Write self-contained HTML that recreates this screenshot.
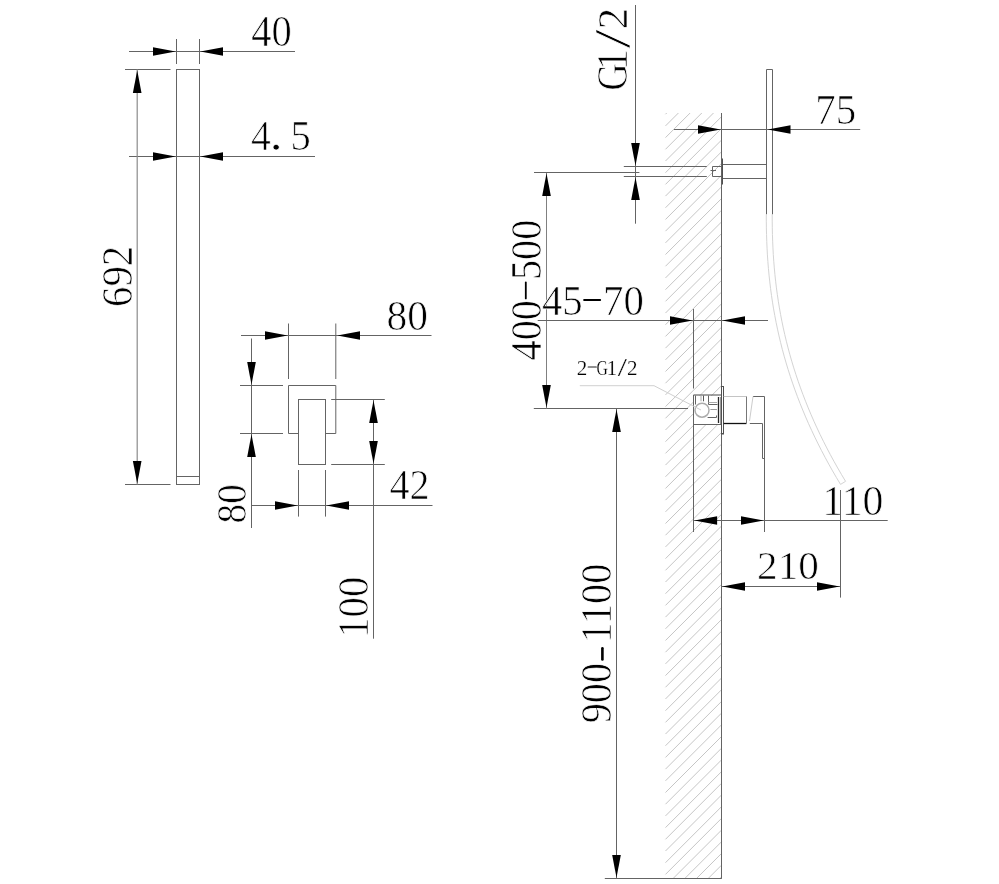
<!DOCTYPE html>
<html><head><meta charset="utf-8"><title>Shower installation drawing</title>
<style>html,body{margin:0;padding:0;background:#fff;}svg{display:block;filter:grayscale(1);}text{font-family:"Liberation Serif",serif;font-size:100px;fill:#000;stroke:#fff;}</style>
</head><body>
<svg width="999" height="884" viewBox="0 0 999 884">
<rect width="999" height="884" fill="#fff"/>
<rect x="176.5" y="69.5" width="23.00" height="415.00" stroke="#646464" stroke-width="1" fill="none"/>
<line x1="176.5" y1="476.5" x2="199.5" y2="476.5" stroke="#646464" stroke-width="1"/>
<line x1="129" y1="51.5" x2="295" y2="51.5" stroke="#646464" stroke-width="1"/>
<line x1="176.5" y1="39" x2="176.5" y2="64" stroke="#646464" stroke-width="1"/>
<line x1="199.5" y1="39" x2="199.5" y2="64" stroke="#646464" stroke-width="1"/>
<polygon points="175.70,51.50 153.00,47.20 153.00,55.80" fill="#000"/>
<polygon points="200.30,51.50 223.00,47.20 223.00,55.80" fill="#000"/>
<text transform="translate(251.22,45.82) scale(0.4055,0.4335)" stroke-width="1.67">40</text>
<line x1="129" y1="156.5" x2="315" y2="156.5" stroke="#646464" stroke-width="1"/>
<polygon points="175.70,156.50 153.00,152.20 153.00,160.80" fill="#000"/>
<polygon points="200.30,156.50 223.00,152.20 223.00,160.80" fill="#000"/>
<text transform="translate(250.88,150.17) scale(0.3964,0.4267)" stroke-width="1.70">4</text>
<text transform="translate(269.58,149.65) scale(0.5300,0.4608)" stroke-width="1.41">.</text>
<text transform="translate(290.45,149.88) scale(0.4062,0.4320)" stroke-width="1.67">5</text>
<line x1="125" y1="69.5" x2="170.5" y2="69.5" stroke="#646464" stroke-width="1"/>
<line x1="125" y1="484.5" x2="170.5" y2="484.5" stroke="#646464" stroke-width="1"/>
<line x1="137.2" y1="69.5" x2="137.2" y2="484.5" stroke="#8c8c8c" stroke-width="1.2"/>
<polygon points="137.20,70.30 132.90,93.00 141.50,93.00" fill="#000"/>
<polygon points="137.20,483.70 132.90,461.00 141.50,461.00" fill="#000"/>
<text transform="translate(131.74,306.98) rotate(-90) scale(0.4081,0.4389)" stroke-width="1.65">692</text>
<path d="M298.5,433.5 H288.5 V385.5 H335.8 V433.5 H325.5" stroke="#646464" stroke-width="1" fill="none"/>
<rect x="298.5" y="399.5" width="27.00" height="65.00" stroke="#646464" stroke-width="1" fill="none"/>
<line x1="241" y1="335.5" x2="431.5" y2="335.5" stroke="#646464" stroke-width="1"/>
<line x1="288.5" y1="323.5" x2="288.5" y2="379" stroke="#646464" stroke-width="1"/>
<line x1="335.8" y1="323.5" x2="335.8" y2="379" stroke="#646464" stroke-width="1"/>
<polygon points="287.70,335.50 265.00,331.20 265.00,339.80" fill="#000"/>
<polygon points="337.30,335.50 360.00,331.20 360.00,339.80" fill="#000"/>
<text transform="translate(386.52,329.59) scale(0.4144,0.4264)" stroke-width="1.67">80</text>
<line x1="251.5" y1="338.5" x2="251.5" y2="528" stroke="#646464" stroke-width="1"/>
<line x1="240" y1="385.5" x2="283" y2="385.5" stroke="#646464" stroke-width="1"/>
<line x1="240" y1="433.5" x2="283" y2="433.5" stroke="#646464" stroke-width="1"/>
<polygon points="251.50,384.70 247.20,362.00 255.80,362.00" fill="#000"/>
<polygon points="251.50,434.30 247.20,457.00 255.80,457.00" fill="#000"/>
<text transform="translate(245.57,523.45) rotate(-90) scale(0.3927,0.4217)" stroke-width="1.72">80</text>
<line x1="251.5" y1="505.5" x2="432.5" y2="505.5" stroke="#646464" stroke-width="1"/>
<line x1="298.5" y1="470" x2="298.5" y2="516.6" stroke="#646464" stroke-width="1"/>
<line x1="325.5" y1="470" x2="325.5" y2="516.6" stroke="#646464" stroke-width="1"/>
<polygon points="297.70,505.50 275.00,501.20 275.00,509.80" fill="#000"/>
<polygon points="326.30,505.50 349.00,501.20 349.00,509.80" fill="#000"/>
<text transform="translate(389.47,499.26) scale(0.4009,0.4237)" stroke-width="1.70">42</text>
<line x1="373.5" y1="399.5" x2="373.5" y2="638.7" stroke="#646464" stroke-width="1"/>
<line x1="331.2" y1="399.5" x2="384.8" y2="399.5" stroke="#646464" stroke-width="1"/>
<line x1="331.2" y1="464.5" x2="384.8" y2="464.5" stroke="#646464" stroke-width="1"/>
<polygon points="373.50,400.30 369.20,423.00 377.80,423.00" fill="#000"/>
<polygon points="373.50,463.70 369.20,441.00 377.80,441.00" fill="#000"/>
<text transform="translate(368.25,637.72) rotate(-90) scale(0.4064,0.4472)" stroke-width="1.64">100</text>
<path d="M665.50,114.21 L666.71,113.00 M665.50,125.90 L678.40,113.00 M665.50,137.60 L690.10,113.00 M665.50,149.29 L701.79,113.00 M665.50,160.99 L713.49,113.00 M665.50,172.68 L721.50,116.68 M665.50,184.38 L721.50,128.38 M665.50,196.07 L721.50,140.07 M665.50,207.76 L721.50,151.76 M665.50,219.46 L721.50,163.46 M665.50,231.15 L721.50,175.15 M665.50,242.85 L721.50,186.85 M665.50,254.55 L721.50,198.55 M665.50,266.24 L721.50,210.24 M665.50,277.94 L721.50,221.94 M665.50,289.63 L721.50,233.63 M665.50,301.33 L721.50,245.33 M665.50,313.02 L721.50,257.02 M665.50,324.72 L721.50,268.72 M665.50,336.41 L721.50,280.41 M665.50,348.11 L721.50,292.11 M665.50,359.80 L721.50,303.80 M665.50,371.49 L721.50,315.49 M665.50,383.19 L721.50,327.19 M665.50,394.88 L721.50,338.88 M665.50,406.58 L721.50,350.58 M665.50,418.28 L721.50,362.28 M665.50,429.97 L721.50,373.97 M665.50,441.66 L721.50,385.66 M665.50,453.36 L721.50,397.36 M665.50,465.06 L721.50,409.06 M665.50,476.75 L721.50,420.75 M665.50,488.45 L721.50,432.45 M665.50,500.14 L721.50,444.14 M665.50,511.84 L721.50,455.84 M665.50,523.53 L721.50,467.53 M665.50,535.22 L721.50,479.22 M665.50,546.92 L721.50,490.92 M665.50,558.62 L721.50,502.62 M665.50,570.31 L721.50,514.31 M665.50,582.01 L721.50,526.01 M665.50,593.70 L721.50,537.70 M665.50,605.39 L721.50,549.39 M665.50,617.09 L721.50,561.09 M665.50,628.79 L721.50,572.79 M665.50,640.48 L721.50,584.48 M665.50,652.18 L721.50,596.18 M665.50,663.87 L721.50,607.87 M665.50,675.57 L721.50,619.57 M665.50,687.26 L721.50,631.26 M665.50,698.95 L721.50,642.95 M665.50,710.65 L721.50,654.65 M665.50,722.35 L721.50,666.35 M665.50,734.04 L721.50,678.04 M665.50,745.74 L721.50,689.74 M665.50,757.43 L721.50,701.43 M665.50,769.12 L721.50,713.12 M665.50,780.82 L721.50,724.82 M665.50,792.51 L721.50,736.51 M665.50,804.21 L721.50,748.21 M665.50,815.91 L721.50,759.91 M665.50,827.60 L721.50,771.60 M665.50,839.30 L721.50,783.30 M665.50,850.99 L721.50,794.99 M665.50,862.68 L721.50,806.68 M665.50,874.38 L721.50,818.38 M673.08,878.50 L721.50,830.08 M684.77,878.50 L721.50,841.77 M696.47,878.50 L721.50,853.47 M708.16,878.50 L721.50,865.16 M719.86,878.50 L721.50,876.86" stroke="#c6c6c6" stroke-width="1" fill="none"/>
<line x1="721.5" y1="113" x2="721.5" y2="878.5" stroke="#646464" stroke-width="1"/>
<line x1="604.8" y1="878.5" x2="721.8" y2="878.5" stroke="#646464" stroke-width="1"/>
<line x1="616.5" y1="408.5" x2="616.5" y2="878.5" stroke="#646464" stroke-width="1"/>
<line x1="533.8" y1="408.5" x2="688" y2="408.5" stroke="#646464" stroke-width="1"/>
<polygon points="616.50,409.30 612.20,432.00 620.80,432.00" fill="#000"/>
<polygon points="616.50,877.70 612.20,855.00 620.80,855.00" fill="#000"/>
<text transform="translate(610.57,723.31) rotate(-90) scale(0.4030,0.4357)" stroke-width="1.67">900 1100</text>
<line x1="602.4" y1="648.2" x2="602.4" y2="659.4" stroke="#000" stroke-width="2.6" style="stroke-linecap:round"/>
<line x1="546.5" y1="172.5" x2="546.5" y2="408.5" stroke="#808080" stroke-width="1"/>
<line x1="534" y1="172.5" x2="639.4" y2="172.5" stroke="#646464" stroke-width="1"/>
<polygon points="546.50,173.30 542.20,196.00 550.80,196.00" fill="#000"/>
<polygon points="546.50,407.70 542.20,385.00 550.80,385.00" fill="#000"/>
<text transform="translate(540.82,360.41) rotate(-90) scale(0.4021,0.4420)" stroke-width="1.66">400 500</text>
<line x1="525.8" y1="282.4" x2="525.8" y2="298.4" stroke="#000" stroke-width="1.8" style="stroke-linecap:round"/>
<line x1="635.5" y1="5" x2="635.5" y2="223.7" stroke="#646464" stroke-width="1"/>
<line x1="623.8" y1="166.5" x2="706.8" y2="166.5" stroke="#646464" stroke-width="1"/>
<line x1="623.8" y1="176.5" x2="706.8" y2="176.5" stroke="#646464" stroke-width="1"/>
<polygon points="635.50,165.70 631.20,143.00 639.80,143.00" fill="#000"/>
<polygon points="635.50,177.30 631.20,200.00 639.80,200.00" fill="#000"/>
<text transform="translate(626.62,29.43) rotate(-90) scale(0.4340,0.4272)" stroke-width="1.63">2</text>
<text transform="translate(629.28,48.59) rotate(-90) scale(0.6863,0.5155)" stroke-width="1.16">/</text>
<text transform="translate(626.67,70.57) rotate(-90) scale(0.4291,0.4345)" stroke-width="1.62">1</text>
<text transform="translate(627.37,90.52) rotate(-90) scale(0.3750,0.4483)" stroke-width="1.70">G</text>
<path d="M721.5,166.5 H712.5 V176.5 H721.5" stroke="#646464" stroke-width="1" fill="none"/>
<line x1="710.5" y1="170.5" x2="716" y2="170.5" stroke="#646464" stroke-width="1"/>
<line x1="722.5" y1="158.5" x2="722.5" y2="184.5" stroke="#505050" stroke-width="1"/>
<line x1="723" y1="164.5" x2="766.5" y2="164.5" stroke="#646464" stroke-width="1"/>
<line x1="723" y1="178.5" x2="766.5" y2="178.5" stroke="#646464" stroke-width="1"/>
<path d="M766.5,214.4 V69.5 H772.5 V214.4" stroke="#646464" stroke-width="1" fill="none"/>
<line x1="674" y1="129.5" x2="860.2" y2="129.5" stroke="#646464" stroke-width="1"/>
<polygon points="720.70,129.50 698.00,125.20 698.00,133.80" fill="#000"/>
<polygon points="767.80,129.50 790.50,125.20 790.50,133.80" fill="#000"/>
<text transform="translate(815.17,123.65) scale(0.4098,0.4161)" stroke-width="1.70">75</text>
<path d="M766.30,214.40 L766.32,221.15 L766.40,227.90 L766.54,234.65 L766.76,241.40 L767.05,248.15 L767.42,254.90 L767.88,261.65 L768.42,268.40 L769.05,275.15 L769.77,281.90 L770.58,288.65 L771.49,295.40 L772.49,302.15 L773.59,308.90 L774.80,315.65 L776.10,322.40 L777.50,329.15 L779.01,335.90 L780.62,342.65 L782.34,349.40 L784.17,356.15 L786.10,362.90 L788.15,369.65 L790.30,376.40 L792.57,383.15 L794.95,389.90 L797.44,396.65 L800.05,403.40 L802.77,410.15 L805.61,416.90 L808.56,423.65 L811.63,430.40 L814.82,437.15 L818.13,443.90 L821.56,450.65 L825.11,457.40 L828.78,464.15 L832.57,470.90 L836.49,477.65 L840.53,484.40 L845.57,481.34 L841.57,474.65 L837.70,467.97 L833.94,461.30 L830.31,454.62 L826.80,447.94 L823.41,441.27 L820.14,434.59 L816.98,427.92 L813.95,421.25 L811.03,414.57 L808.22,407.90 L805.54,401.23 L802.96,394.57 L800.50,387.90 L798.15,381.23 L795.91,374.56 L793.78,367.90 L791.76,361.23 L789.85,354.57 L788.05,347.90 L786.35,341.24 L784.76,334.57 L783.27,327.91 L781.88,321.24 L780.60,314.57 L779.41,307.91 L778.32,301.24 L777.33,294.57 L776.43,287.90 L775.63,281.23 L774.92,274.56 L774.30,267.89 L773.76,261.22 L773.31,254.54 L772.94,247.86 L772.65,241.18 L772.44,234.49 L772.30,227.80 L772.22,221.11 L772.20,214.40" stroke="#d4d4d4" stroke-width="1" fill="none"/>
<line x1="537.7" y1="320.5" x2="768" y2="320.5" stroke="#646464" stroke-width="1"/>
<line x1="693.5" y1="309" x2="693.5" y2="388.5" stroke="#646464" stroke-width="1"/>
<polygon points="692.70,320.50 670.00,316.20 670.00,324.80" fill="#000"/>
<polygon points="722.30,320.50 745.00,316.20 745.00,324.80" fill="#000"/>
<text transform="translate(541.91,314.67) scale(0.4077,0.4271)" stroke-width="1.68">45 70</text>
<line x1="584.1" y1="300.1" x2="600.1" y2="300.1" stroke="#000" stroke-width="2" style="stroke-linecap:round"/>
<rect x="694" y="396" width="27" height="28" fill="#fff"/>
<line x1="693.5" y1="395" x2="721" y2="395" stroke="#666" stroke-width="1.2"/>
<line x1="693.5" y1="395" x2="693.5" y2="532" stroke="#646464" stroke-width="1"/>
<line x1="693.5" y1="424.5" x2="721" y2="424.5" stroke="#646464" stroke-width="1"/>
<line x1="695.5" y1="395.5" x2="695.5" y2="404.5" stroke="#646464" stroke-width="1"/>
<line x1="701" y1="395.5" x2="701" y2="401.3" stroke="#aaa" stroke-width="1"/>
<line x1="703.5" y1="395.5" x2="703.5" y2="401.3" stroke="#555" stroke-width="1"/>
<path d="M708.5,395.5 V404.5 H717.5" stroke="#646464" stroke-width="1" fill="none"/>
<line x1="708.5" y1="402.5" x2="717" y2="402.5" stroke="#aaa" stroke-width="1"/>
<line x1="710.4" y1="409.5" x2="716.5" y2="409.5" stroke="#999" stroke-width="1"/>
<line x1="716.5" y1="409.5" x2="716.6" y2="409.6" stroke="#000" stroke-width="1.5"/>
<path d="M707.6,417.5 H716.5 V415.5" stroke="#646464" stroke-width="1" fill="none"/>
<circle cx="702" cy="410.2" r="7" stroke="#acacac" fill="none" stroke-width="1.5"/>
<line x1="718.5" y1="397" x2="718.5" y2="423" stroke="#282828" stroke-width="1.3"/>
<line x1="720.5" y1="397" x2="720.5" y2="424" stroke="#999" stroke-width="1"/>
<rect x="721.5" y="386.5" width="2" height="47.5" stroke="#505050" fill="none" stroke-width="1"/>
<line x1="723.7" y1="396.5" x2="746.4" y2="396.5" stroke="#c4c4c4" stroke-width="1"/>
<line x1="723.7" y1="423.5" x2="746.4" y2="423.5" stroke="#111" stroke-width="1.3"/>
<line x1="746.5" y1="396.5" x2="746.5" y2="423.5" stroke="#777" stroke-width="1"/>
<path d="M753,396.5 H764.5 V532" stroke="#646464" stroke-width="1" fill="none"/>
<line x1="753" y1="396.5" x2="749.5" y2="421" stroke="#ccc" stroke-width="1"/>
<path d="M749.8,423.5 H762.5 V458.5 H764.5" stroke="#646464" stroke-width="1" fill="none"/>
<path d="M579.8,385.7 H654 L701,410" stroke="#d0d0d0" stroke-width="1" fill="none"/>
<text transform="translate(576.83,374.59) scale(0.2109,0.2026)" stroke-width="0.97">2</text>
<text transform="translate(596.60,375.00) scale(0.1571,0.2154)" stroke-width="1.07">G</text>
<text transform="translate(606.60,374.63) scale(0.2148,0.2031)" stroke-width="0.96">1</text>
<text transform="translate(617.68,375.59) scale(0.3316,0.2501)" stroke-width="0.69">/</text>
<text transform="translate(627.09,374.59) scale(0.2110,0.2026)" stroke-width="0.97">2</text>
<line x1="588.2" y1="367" x2="596.3" y2="367" stroke="#222" stroke-width="1.2" style="stroke-linecap:round"/>
<line x1="693.6" y1="520.5" x2="887.7" y2="520.5" stroke="#646464" stroke-width="1"/>
<polygon points="694.40,520.50 717.10,516.20 717.10,524.80" fill="#000"/>
<polygon points="763.70,520.50 741.00,516.20 741.00,524.80" fill="#000"/>
<text transform="translate(822.28,514.67) scale(0.4187,0.4152)" stroke-width="1.68">110</text>
<line x1="721.5" y1="586.5" x2="840.5" y2="586.5" stroke="#646464" stroke-width="1"/>
<line x1="840.5" y1="490" x2="840.5" y2="597.6" stroke="#646464" stroke-width="1"/>
<polygon points="722.30,586.50 745.00,582.20 745.00,590.80" fill="#000"/>
<polygon points="839.70,586.50 817.00,582.20 817.00,590.80" fill="#000"/>
<text transform="translate(757.05,579.46) scale(0.4121,0.3961)" stroke-width="1.73">210</text>
</svg>
</body></html>
